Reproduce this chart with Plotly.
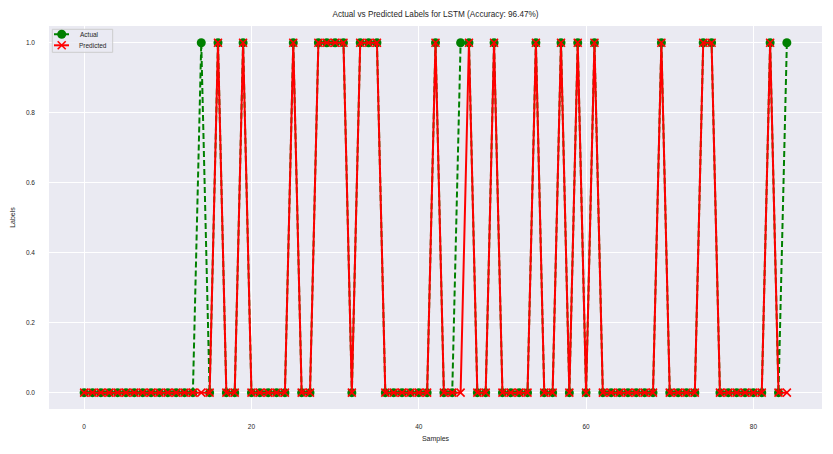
import plotly.graph_objects as go

samples = list(range(85))
actual = [
    0, 0, 0, 0, 0, 0, 0, 0, 0, 0,
    0, 0, 0, 0, 1, 0, 1, 0, 0, 1,
    0, 0, 0, 0, 0, 1, 0, 0, 1, 1,
    1, 1, 0, 1, 1, 1, 0, 0, 0, 0,
    0, 0, 1, 0, 0, 1, 1, 0, 0, 1,
    0, 0, 0, 0, 1, 0, 0, 1, 0, 1,
    0, 1, 0, 0, 0, 0, 0, 0, 0, 1,
    0, 0, 0, 0, 1, 1, 0, 0, 0, 0,
    0, 0, 1, 0, 1,
]
predicted = [
    0, 0, 0, 0, 0, 0, 0, 0, 0, 0,
    0, 0, 0, 0, 0, 0, 1, 0, 0, 1,
    0, 0, 0, 0, 0, 1, 0, 0, 1, 1,
    1, 1, 0, 1, 1, 1, 0, 0, 0, 0,
    0, 0, 1, 0, 0, 0, 1, 0, 0, 1,
    0, 0, 0, 0, 1, 0, 0, 1, 0, 1,
    0, 1, 0, 0, 0, 0, 0, 0, 0, 1,
    0, 0, 0, 0, 1, 1, 0, 0, 0, 0,
    0, 0, 1, 0, 0,
]
x_ticks = [0, 20, 40, 60, 80]
y_ticks = [0.0, 0.2, 0.4, 0.6, 0.8, 1.0]
series_names = ["Actual", "Predicted"]
title_text = "Actual vs Predicted Labels for LSTM (Accuracy: 96.47%)"

FONT = "Liberation Sans, Arial, sans-serif"
TXT = "#262626"
W, H = 833, 454
ML, MR, MT, MB = 49, 11, 26, 45
PW, PH = W - ML - MR, H - MT - MB


def px_x(px):
    return (px - ML) / PW


def px_y(py):
    return (H - MB - py) / PH


fig = go.Figure()
fig.add_trace(go.Scatter(
    x=samples, y=actual, mode="lines+markers", name=series_names[0],
    line=dict(color="green", width=2, dash="6px,3px"),
    marker=dict(symbol="circle", size=9, color="green"),
    showlegend=False,
))
fig.add_trace(go.Scatter(
    x=samples, y=predicted, mode="lines+markers", name=series_names[1],
    line=dict(color="red", width=2),
    marker=dict(symbol="x-thin", size=8, color="red",
                line=dict(color="red", width=1.6)),
    showlegend=False,
))

# compact matplotlib-style legend
shapes = [
    dict(type="rect", xref="paper", yref="paper",
         x0=px_x(52.3), x1=px_x(112.7), y0=px_y(52.3), y1=px_y(29.3),
         fillcolor="rgba(234,234,242,0.8)", line=dict(color="#cccccc", width=1),
         layer="above"),
    dict(type="line", xref="paper", yref="paper",
         x0=px_x(54), x1=px_x(69), y0=px_y(34.3), y1=px_y(34.3),
         line=dict(color="green", width=2, dash="6px,3px"), layer="above"),
    dict(type="circle", xref="paper", yref="paper",
         xsizemode="pixel", ysizemode="pixel",
         xanchor=px_x(61.7), yanchor=px_y(34.3),
         x0=-4.5, x1=4.5, y0=-4.5, y1=4.5,
         fillcolor="green", line=dict(color="green", width=0), layer="above"),
    dict(type="line", xref="paper", yref="paper",
         x0=px_x(54), x1=px_x(69), y0=px_y(45.3), y1=px_y(45.3),
         line=dict(color="red", width=2), layer="above"),
    dict(type="line", xref="paper", yref="paper",
         xsizemode="pixel", ysizemode="pixel",
         xanchor=px_x(61.7), yanchor=px_y(45.3),
         x0=-4, x1=4, y0=-4, y1=4,
         line=dict(color="red", width=1.6), layer="above"),
    dict(type="line", xref="paper", yref="paper",
         xsizemode="pixel", ysizemode="pixel",
         xanchor=px_x(61.7), yanchor=px_y(45.3),
         x0=-4, x1=4, y0=4, y1=-4,
         line=dict(color="red", width=1.6), layer="above"),
]
annotations = [
    dict(text=series_names[0], xref="paper", yref="paper",
         x=px_x(77.5), y=px_y(34.3), xanchor="left", yanchor="middle",
         showarrow=False, font=dict(size=6.5, color=TXT, family=FONT)),
    dict(text=series_names[1], xref="paper", yref="paper",
         x=px_x(77), y=px_y(45.3), xanchor="left", yanchor="middle",
         showarrow=False, font=dict(size=6.5, color=TXT, family=FONT)),
]

fig.update_layout(
    width=W, height=H,
    margin=dict(l=ML, r=MR, t=MT, b=MB),
    paper_bgcolor="white", plot_bgcolor="#EAEAF2",
    font=dict(family=FONT, size=7, color=TXT),
    title=dict(text=title_text, xref="paper", x=0.5, xanchor="center",
               y=1 - 14 / H, yanchor="middle",
               font=dict(size=8.2, color=TXT)),
    showlegend=False,
    shapes=shapes,
    annotations=annotations,
)
fig.update_xaxes(
    range=[-4.2, 88.2], tickvals=x_ticks, ticktext=[str(v) for v in x_ticks],
    showgrid=True, gridcolor="white", gridwidth=1, zeroline=False,
    ticks="", ticklabelstandoff=12, tickfont=dict(size=6.5, color=TXT),
    title=dict(text="Samples", font=dict(size=7, color=TXT), standoff=7),
    showline=False,
)
fig.update_yaxes(
    range=[-0.0466, 1.048], tickvals=y_ticks,
    ticktext=[f"{v:.1f}" for v in y_ticks],
    showgrid=True, gridcolor="white", gridwidth=1, zeroline=False,
    ticks="", ticklabelstandoff=13, tickfont=dict(size=6.5, color=TXT),
    title=dict(text="Labels", font=dict(size=7, color=TXT), standoff=9),
    showline=False,
)

fig.write_html("out.html")
